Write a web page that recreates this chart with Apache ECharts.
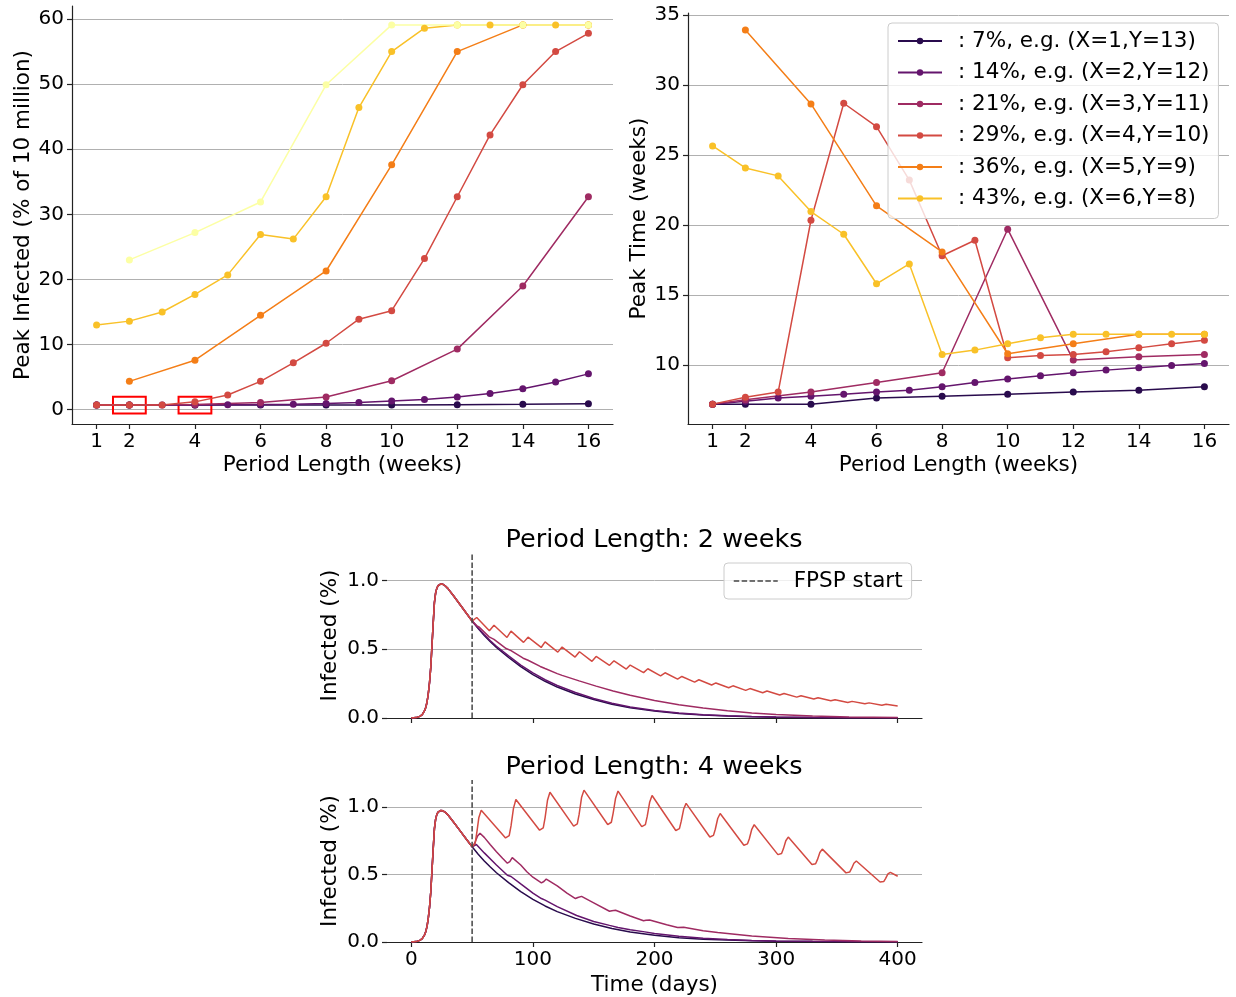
<!DOCTYPE html>
<html><head><meta charset="utf-8">
<script src="https://cdn.jsdelivr.net/npm/echarts@6/dist/echarts.min.js"></script>
<style>html,body{margin:0;padding:0;background:#fff}#c{width:1236px;height:997px}</style>
</head><body><div id="c"></div>
<script>
// ---------- categories / tick labels ----------
const weeksAll = [1,2,3,4,5,6,7,8,9,10,11,12,13,14,15,16];
const weeksA = [1,2,4,6,8,10,12,14,16];
const weeksEven = [2,4,6,8,10,12,14,16];
const weekTicks = [1,2,4,6,8,10,12,14,16];
const peakInfTicks = [0,10,20,30,40,50,60];
const peakTimeTicks = [10,15,20,25,30,35];
const dayTicks = [0,100,200,300,400];
const infTicks = [0,0.5,1.0];
const legendNames = [': 7%, e.g. (X=1,Y=13)', ': 14%, e.g. (X=2,Y=12)', ': 21%, e.g. (X=3,Y=11)',
  ': 29%, e.g. (X=4,Y=10)', ': 36%, e.g. (X=5,Y=9)', ': 43%, e.g. (X=6,Y=8)'];
const colors = ['#290b4d','#64156d','#9f2b62','#d34a42','#f47e17','#f9c128','#fcffa4'];

// ---------- Peak Infected (% of 10 million) ----------
const pinf1 = [0.7,0.7,0.7,0.7,0.72,0.72,0.77,0.82,0.92];                      // weeksA
const pinf2 = [0.7,0.7,0.7,0.7,0.75,0.8,0.85,0.95,1.1,1.35,1.55,1.95,2.5,3.2,4.25,5.5]; // weeksAll
const pinf3 = [0.7,0.7,0.8,1.1,1.95,4.45,9.3,19.0,32.7];                        // weeksA
const pinf4 = [0.7,0.7,0.7,1.2,2.25,4.35,7.2,10.2,13.9,15.2,23.2,32.7,42.2,49.9,55.0,57.8]; // weeksAll
const pinf5 = [4.35,7.6,14.5,21.3,37.6,55.0,59.1,59.1];                         // weeksEven
const pinf6 = [13.0,13.6,15.0,17.7,20.7,26.9,26.2,32.7,46.4,55.0,58.6,59.1,59.1,59.1,59.1,59.1]; // weeksAll
const pinf7 = [23.0,27.2,31.9,49.9,59.1,59.1,59.1,59.1];                        // weeksEven
const highlightWeeks = [2,4];
const highlightLow = -0.6, highlightHigh = 2.0;

// ---------- Peak Time (weeks) ----------
const ptime1 = [7.19,7.19,7.19,7.62,7.76,7.9,8.05,8.19,8.43];                   // weeksA
const ptime2 = [7.19,7.4,7.62,7.76,7.9,8.05,8.19,8.43,8.74,8.98,9.21,9.43,9.62,9.79,9.95,10.1]; // weeksAll
const ptime3 = [7.19,7.5,8.05,8.74,9.43,19.69,10.34,10.57,10.74];               // weeksA
const ptime4 = [7.19,7.68,8.05,20.33,28.69,27.02,23.2,17.79,18.9,10.5,10.66,10.74,10.93,11.21,11.5,11.76]; // weeksAll
const ptime5 = [33.93,28.64,21.36,18.07,10.79,11.5,12.19,12.19];                // weeksEven
const ptime6 = [25.64,24.07,23.5,20.95,19.33,15.79,17.21,10.74,11.05,11.5,11.93,12.19,12.19,12.19,12.19,12.19]; // weeksAll

// ---------- time series (Infected %) ----------
const fpspStart = 50;
const commonDays = [0,4,7,9,11,12,13,14,15,16,17,18,19,20,21,22,24,26,28,30,35,40,45];
const commonVals = [0,0.003,0.012,0.025,0.055,0.08,0.12,0.18,0.26,0.37,0.53,0.69,0.84,0.91,0.945,0.962,0.974,0.972,0.96,0.943,0.885,0.825,0.765];

const darkDays = [50,55,60,65,70,80,90,100,110,120,135,150,165,180,200,220,240,260,280,300,330,360,400];
const darkVals = [0.705,0.65,0.6,0.555,0.513,0.44,0.373,0.316,0.267,0.225,0.175,0.134,0.1,0.074,0.05,0.032,0.021,0.014,0.009,0.006,0.003,0.002,0.001];

// period 2 weeks
const w2PurpleDays = darkDays;
const w2PurpleVals = [0.705,0.655,0.607,0.562,0.522,0.452,0.385,0.328,0.278,0.236,0.185,0.142,0.107,0.08,0.054,0.036,0.024,0.016,0.011,0.007,0.004,0.002,0.001];
const w2MagDays = [50,54,56,64,68,78,82,92,96,106,110,120,124,138,152,166,180,200,220,240,260,280,300,330,360,400];
const w2MagVals = [0.705,0.67,0.66,0.59,0.572,0.505,0.49,0.435,0.42,0.375,0.36,0.323,0.31,0.27,0.232,0.197,0.166,0.128,0.097,0.072,0.052,0.037,0.026,0.015,0.008,0.004];
const w2RedDays = [50,53.8,64.2,68,78.7,82,92.3,96,106.8,110,120.5,124,134.7,138.3,148.6,152,163,166.7,176.8,180,191,194.5,205,208.7,219,222.5,233,236.5,247,250.5,261,264.5,275,278.5,289,292.5,303,306.5,317,320.5,331,334.5,345,348.5,359,362.5,373,376.5,387,390.5,400];
const w2RedVals = [0.705,0.731,0.634,0.675,0.586,0.632,0.55,0.588,0.513,0.554,0.479,0.516,0.443,0.482,0.412,0.448,0.383,0.416,0.356,0.385,0.33,0.358,0.307,0.329,0.283,0.302,0.261,0.278,0.24,0.255,0.22,0.234,0.201,0.214,0.184,0.196,0.167,0.178,0.152,0.162,0.138,0.147,0.125,0.133,0.113,0.121,0.103,0.11,0.093,0.1,0.087];

// period 4 weeks
const w4PurpleDays = [50,53.5,60,70,79,82,90,100,107,110,120,136,150,163,170,180,192,200,220,240,260,280,300,330,360,400];
const w4PurpleVals = [0.705,0.722,0.66,0.57,0.494,0.485,0.43,0.362,0.322,0.31,0.262,0.196,0.152,0.123,0.108,0.09,0.075,0.063,0.042,0.028,0.018,0.012,0.008,0.005,0.003,0.001];
const w4MagDays = [50,52,54.5,56.5,60,65,70,75,79,81,83,84.5,90,95,100,107,109,111,112.5,120,128,135,137,140,150,163,165,168,180,191,193,196,210,219,224,240,252,280,310,340,370,400];
const w4MagVals = [0.705,0.73,0.785,0.806,0.775,0.72,0.668,0.62,0.584,0.595,0.625,0.632,0.57,0.52,0.48,0.438,0.448,0.466,0.47,0.415,0.362,0.322,0.33,0.338,0.29,0.228,0.232,0.235,0.193,0.158,0.161,0.163,0.128,0.108,0.109,0.084,0.07,0.045,0.026,0.014,0.008,0.004];
const w4RedDays = [50,51,52.5,54,55.5,57.5, 77.5,79,80.5,82,84,86, 105.5,107,108.5,110,112,114, 133.5,135,136.5,138,140,142, 161.5,163,164.5,166,168,170, 189.5,191,192.5,194,196,198, 217.5,219,220.5,222,224,226, 245.5,247,248.5,250,252,254, 273.5,275,276.5,278,280,282, 301.5,303,304.5,306,308,310, 329.5,331,332.5,334,336,338, 357.5,359,360.5,362,364,366, 385.5,387,388.5,390,392,394, 400];
const w4RedVals = [0.705,0.698,0.73,0.82,0.92,0.976, 0.771,0.763,0.788,0.86,0.99,1.056, 0.828,0.82,0.845,0.92,1.05,1.109, 0.858,0.85,0.875,0.945,1.07,1.125, 0.87,0.862,0.887,0.955,1.065,1.118, 0.855,0.847,0.87,0.93,1.035,1.085, 0.826,0.818,0.84,0.895,0.985,1.027, 0.778,0.77,0.79,0.835,0.915,0.952, 0.717,0.71,0.727,0.765,0.835,0.869, 0.647,0.64,0.655,0.69,0.75,0.777, 0.574,0.567,0.58,0.61,0.663,0.688, 0.512,0.506,0.518,0.543,0.583,0.6, 0.444,0.438,0.448,0.47,0.505,0.516, 0.487];

// ---------- build ----------
const FONT = 'DejaVu Sans';
const pair = (xs, ys) => xs.map((x, i) => [x, ys[i]]);
const withCommon = (days, vals) => pair(commonDays.concat(days), commonVals.concat(vals));

function axisBase(extra) {
  return Object.assign({
    type: 'value',
    axisLine: { show: true, onZero: false, lineStyle: { color: '#222', width: 1.2 } },
    axisTick: { show: true, length: 5, lineStyle: { color: '#222', width: 1.2 } },
    axisLabel: { color: '#000', fontSize: 20, fontFamily: FONT, margin: 8 },
    splitLine: { show: false },
    nameTextStyle: { color: '#000', fontSize: 21.5, fontFamily: FONT },
    nameLocation: 'middle'
  }, extra);
}

const gridLine = { show: true, lineStyle: { color: '#b0b0b0', width: 1 } };
const tickStyle = { color: '#222', width: 1.2 };
const lbl = (vals, extra) => Object.assign({ color: '#000', fontSize: 20, fontFamily: FONT, margin: 8, customValues: vals }, extra || {});

const xAxes = [
  axisBase({ gridIndex: 0, min: 0.25, max: 16.75, name: 'Period Length (weeks)', nameGap: 30,
    axisTick: { show: true, length: 5, customValues: weekTicks, lineStyle: tickStyle }, axisLabel: lbl(weekTicks) }),
  axisBase({ gridIndex: 1, min: 0.25, max: 16.75, name: 'Period Length (weeks)', nameGap: 30,
    axisTick: { show: true, length: 5, customValues: weekTicks, lineStyle: tickStyle }, axisLabel: lbl(weekTicks) }),
  axisBase({ gridIndex: 2, min: -20, max: 420,
    axisTick: { show: true, length: 5, customValues: dayTicks, lineStyle: tickStyle }, axisLabel: { show: false } }),
  axisBase({ gridIndex: 3, min: -20, max: 420, name: 'Time (days)', nameGap: 32,
    axisTick: { show: true, length: 5, customValues: dayTicks, lineStyle: tickStyle }, axisLabel: lbl(dayTicks) })
];

const yAxes = [
  axisBase({ gridIndex: 0, min: -2.2, max: 62, name: 'Peak Infected (% of 10 million)', nameGap: 36,
    axisTick: { show: true, length: 5, customValues: peakInfTicks, lineStyle: tickStyle }, axisLabel: lbl(peakInfTicks),
    splitLine: gridLine }),
  axisBase({ gridIndex: 1, min: 5.77, max: 35.14, name: 'Peak Time (weeks)', nameGap: 36,
    axisTick: { show: true, length: 5, customValues: peakTimeTicks, lineStyle: tickStyle }, axisLabel: lbl(peakTimeTicks),
    splitLine: gridLine }),
  axisBase({ gridIndex: 2, min: 0, max: 1.2, name: 'Infected (%)', nameGap: 46,
    axisLine: { show: false, onZero: false },
    axisTick: { show: true, length: 5, customValues: infTicks, lineStyle: tickStyle },
    axisLabel: lbl(infTicks, { formatter: v => v.toFixed(1) }), splitLine: gridLine }),
  axisBase({ gridIndex: 3, min: 0, max: 1.2, name: 'Infected (%)', nameGap: 46,
    axisLine: { show: false, onZero: false },
    axisTick: { show: true, length: 5, customValues: infTicks, lineStyle: tickStyle },
    axisLabel: lbl(infTicks, { formatter: v => v.toFixed(1) }), splitLine: gridLine })
];

function markerLine(name, data, color, gi) {
  return { type: 'line', name, xAxisIndex: gi, yAxisIndex: gi, data,
    symbol: 'circle', symbolSize: 7, showSymbol: true,
    itemStyle: { color }, lineStyle: { color, width: 1.5 }, emphasis: { disabled: true } };
}
function tsLine(name, data, color, gi) {
  return { type: 'line', name, xAxisIndex: gi, yAxisIndex: gi, data,
    symbol: 'none', showSymbol: false, itemStyle: { color }, lineStyle: { color, width: 1.5 }, emphasis: { disabled: true } };
}

const series = [];
// top-left
series.push(markerLine(legendNames[0], pair(weeksA, pinf1), colors[0], 0));
series.push(markerLine(legendNames[1], pair(weeksAll, pinf2), colors[1], 0));
series.push(markerLine(legendNames[2], pair(weeksA, pinf3), colors[2], 0));
series.push(markerLine(legendNames[3], pair(weeksAll, pinf4), colors[3], 0));
series.push(markerLine(legendNames[4], pair(weeksEven, pinf5), colors[4], 0));
series.push(markerLine(legendNames[5], pair(weeksAll, pinf6), colors[5], 0));
const s7 = markerLine('50%', pair(weeksEven, pinf7), colors[6], 0);
s7.markArea = { silent: true,
  itemStyle: { color: 'rgba(0,0,0,0)', borderColor: '#ff0000', borderWidth: 2 },
  data: highlightWeeks.map(w => [{ coord: [w - 0.5, highlightHigh] }, { coord: [w + 0.5, highlightLow] }]) };
series.push(s7);
// top-right
series.push(markerLine(legendNames[0], pair(weeksA, ptime1), colors[0], 1));
series.push(markerLine(legendNames[1], pair(weeksAll, ptime2), colors[1], 1));
series.push(markerLine(legendNames[2], pair(weeksA, ptime3), colors[2], 1));
series.push(markerLine(legendNames[3], pair(weeksAll, ptime4), colors[3], 1));
series.push(markerLine(legendNames[4], pair(weeksEven, ptime5), colors[4], 1));
series.push(markerLine(legendNames[5], pair(weeksAll, ptime6), colors[5], 1));
// bottom charts
const dash = { type: [5.5, 2.4], color: '#444', width: 1.5 };
[[2, w2PurpleDays, w2PurpleVals, w2MagDays, w2MagVals, w2RedDays, w2RedVals],
 [3, w4PurpleDays, w4PurpleVals, w4MagDays, w4MagVals, w4RedDays, w4RedVals]].forEach(r => {
  const gi = r[0];
  series.push(tsLine('ts7_' + gi, withCommon(darkDays, darkVals), colors[0], gi));
  series.push(tsLine('ts14_' + gi, withCommon(r[1], r[2]), colors[1], gi));
  series.push(tsLine('ts21_' + gi, withCommon(r[3], r[4]), colors[2], gi));
  series.push(tsLine('ts29_' + gi, withCommon(r[5], r[6]), colors[3], gi));
  series.push({ type: 'line', name: 'FPSP start', xAxisIndex: gi, yAxisIndex: gi,
    data: [[fpspStart, 0], [fpspStart, 1.2]], symbol: 'none', showSymbol: false,
    itemStyle: { color: '#444' }, lineStyle: dash, emphasis: { disabled: true } });
});

const option = {
  animation: false,
  backgroundColor: '#fff',
  textStyle: { fontFamily: FONT },
  title: [
    { text: 'Period Length: 2 weeks', left: 654, top: 527, textAlign: 'center', padding: 0,
      textStyle: { fontSize: 25.5, fontWeight: 'normal', color: '#000', fontFamily: FONT } },
    { text: 'Period Length: 4 weeks', left: 654, top: 754, textAlign: 'center', padding: 0,
      textStyle: { fontSize: 25.5, fontWeight: 'normal', color: '#000', fontFamily: FONT } }
  ],
  grid: [
    { left: 72, top: 6, width: 541, height: 418, containLabel: false },
    { left: 688, top: 13, width: 541, height: 411, containLabel: false },
    { left: 387, top: 553, width: 535, height: 165, containLabel: false },
    { left: 387, top: 780, width: 535, height: 166, containLabel: false }
  ],
  legend: [
    { data: legendNames, orient: 'vertical', left: 888, top: 23, itemWidth: 44, itemHeight: 8, itemGap: 9.5,
      padding: [7, 9, 9, 9], backgroundColor: 'rgba(255,255,255,0.8)', borderColor: '#cccccc', borderWidth: 1, borderRadius: 4,
      selectedMode: false, textStyle: { fontSize: 21.5, fontFamily: FONT, color: '#000', lineHeight: 22, padding: [0, 0, 0, 11] } },
    { data: ['FPSP start'], orient: 'vertical', left: 724, top: 563, itemWidth: 44, itemHeight: 8,
      padding: [7, 9, 7, 9], backgroundColor: 'rgba(255,255,255,0.8)', borderColor: '#cccccc', borderWidth: 1, borderRadius: 4,
      itemStyle: { opacity: 0 }, lineStyle: { type: [5.5, 2.4], color: '#444', width: 1.5 },
      selectedMode: false, textStyle: { fontSize: 21.5, fontFamily: FONT, color: '#000', lineHeight: 22, padding: [0, 0, 0, 11] } }
  ],
  xAxis: xAxes,
  yAxis: yAxes,
  series
};
const chart = echarts.init(document.getElementById('c'), null, { renderer: 'canvas' });
chart.setOption(option);
</script></body></html>
